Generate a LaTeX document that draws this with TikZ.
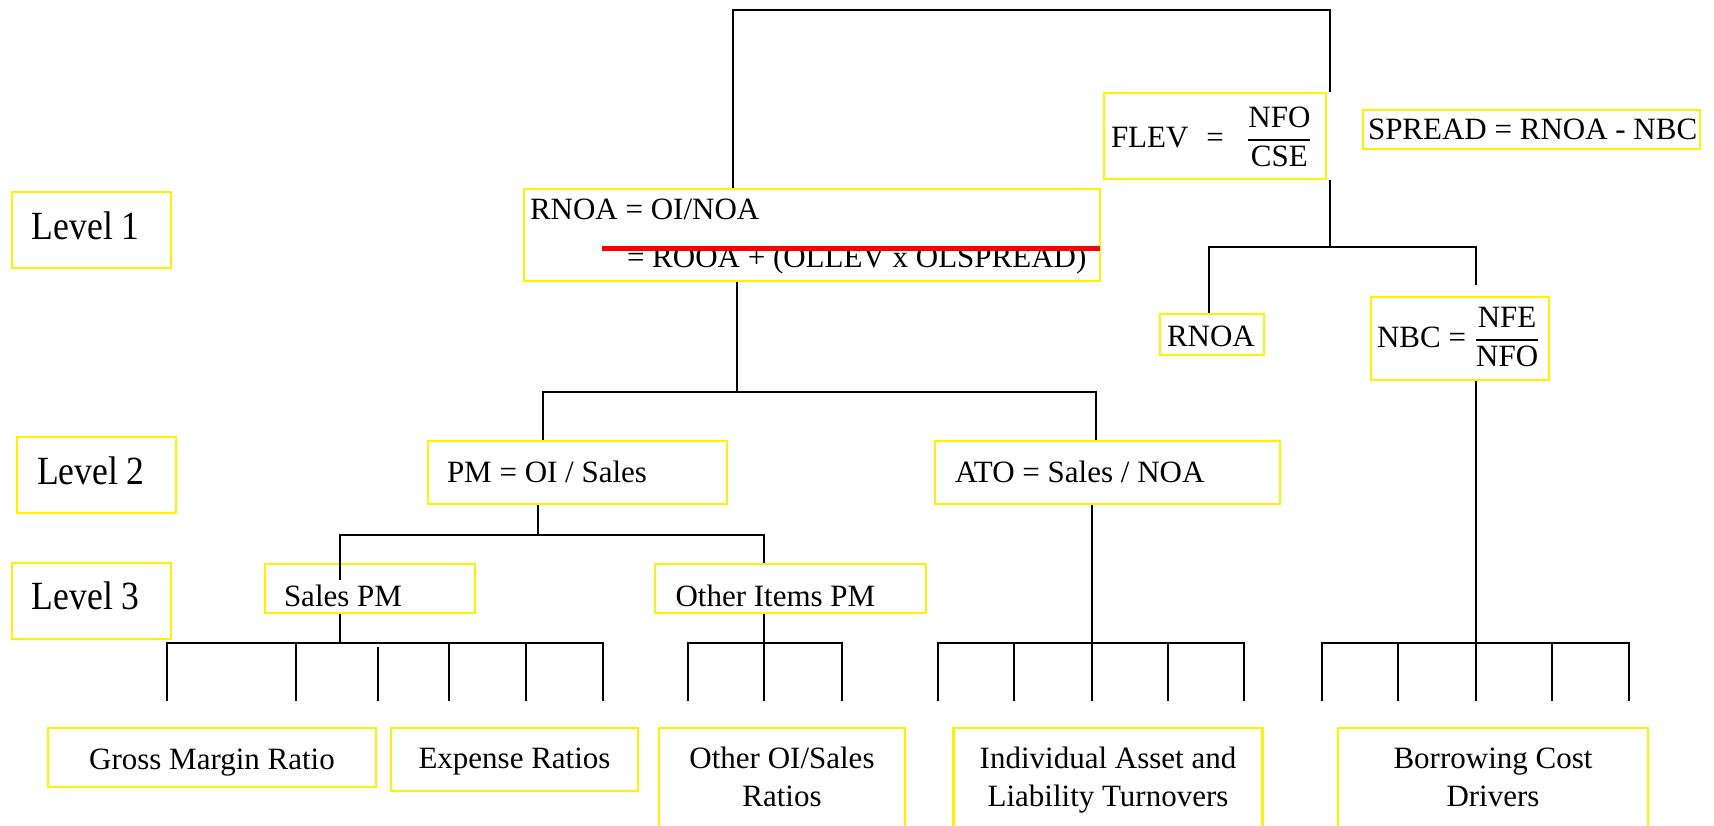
\documentclass[tikz,border=0pt]{standalone}
\usepackage{fontspec}
\setmainfont{Liberation Serif}
\newfontfamily\levfont[FakeStretch=0.89]{Liberation Serif}
\newcommand\mainsz{\fontsize{15.5}{19}\selectfont}
\newcommand\levsz{\levfont\fontsize{20}{24}\selectfont}
\tikzset{
  ybox/.style={draw=yellow, line width=1.3pt, inner ysep=0pt, inner xsep=0pt, font=\mainsz},
  levbox/.style={ybox, font=\levsz, minimum width=79.5pt, minimum height=38pt, inner xsep=10pt, text depth=0pt},
  conn/.style={draw=black, line width=1pt},
  strike/.style={draw=red, line width=2.5pt},
}
\begin{document}
\begin{tikzpicture}[x=0.5pt,y=-0.5pt]
\fill[white] (0,0) rectangle (1714,825);
\useasboundingbox (0,0) rectangle (1714,825);
\clip (0,0) rectangle (1714,825);

% level labels
\node[levbox, text height=9pt] (lev1) at (91.5,230) {\makebox[59.5pt][l]{Level 1}};
\node[levbox, text height=9pt] (lev2) at (96.5,475) {\makebox[59.5pt][l]{Level 2}};
\node[levbox, text height=8pt] (lev3) at (91.5,601) {\makebox[59.5pt][l]{Level 3}};

% level 1
\node[ybox, minimum width=288pt, minimum height=46pt, inner xsep=3pt, text height=0pt, text depth=16pt] (rnoa) at (812,235)
  {\parbox[t]{282pt}{\fontsize{15.5}{24}\selectfont RNOA = OI/NOA\\\hspace*{48.5pt}= ROOA + (OLLEV x OLSPREAD)}};
\node[ybox, minimum width=111pt, minimum height=43pt, inner xsep=3.5pt, text height=11pt, text depth=0pt] (flev) at (1215,136)
  {\makebox[104pt][l]{FLEV\hspace{9pt}=\hspace{11pt}$\displaystyle{\mbox{NFO}\above 0.9pt\mbox{CSE}}$}};
\node[ybox, minimum width=168.5pt, minimum height=19.5pt, inner xsep=2.5pt, text height=9.5pt, text depth=0pt] (spread) at (1531.5,129.5)
  {\makebox[163.5pt][l]{SPREAD = RNOA - NBC}};
\node[ybox, minimum width=52pt, minimum height=20.5pt, inner xsep=3.5pt, text height=11.5pt, text depth=0pt] (rnoa2) at (1212,334.5)
  {\makebox[45pt][l]{RNOA}};
\node[ybox, minimum width=89pt, minimum height=41.5pt, inner xsep=3pt, text height=8.5pt, text depth=0pt] (nbc) at (1460,338.5)
  {\makebox[83pt][l]{NBC = $\displaystyle{\mbox{NFE}\above 0.9pt\mbox{NFO}}$}};

% level 2
\node[ybox, minimum width=149.5pt, minimum height=31.5pt, inner xsep=9.5pt, text height=9.5pt, text depth=0pt] (pm) at (577.5,472.5)
  {\makebox[130.5pt][l]{PM = OI / Sales}};
\node[ybox, minimum width=172.5pt, minimum height=31.5pt, inner xsep=10pt, text height=9.5pt, text depth=0pt] (ato) at (1107.5,472.5)
  {\makebox[152.5pt][l]{ATO = Sales / NOA}};

% level 3
\node[ybox, minimum width=105pt, minimum height=24.5pt, inner xsep=9.5pt, text height=17.5pt, text depth=0pt] (salespm) at (370,588.5)
  {\makebox[86pt][l]{Sales PM}};
\node[ybox, minimum width=135.5pt, minimum height=24.5pt, inner xsep=10.25pt, text height=17.5pt, text depth=0pt] (otherpm) at (790.5,588.5)
  {\makebox[115pt][l]{Other Items PM}};

% bottom boxes
\node[ybox, minimum width=164pt, minimum height=29.5pt, text height=11.5pt, text depth=0pt] (gm) at (212,757.5) {Gross Margin Ratio};
\node[ybox, minimum width=123.5pt, minimum height=31.5pt, text height=8.5pt, text depth=0pt] (exp) at (514.5,759.5) {Expense Ratios};
\node[ybox, minimum width=123pt, minimum height=51.5pt, text height=0pt, text depth=11.5pt] (otheroi) at (782,779.5)
  {\parbox[t]{123pt}{\centering\fontsize{15.5}{19}\selectfont Other OI/Sales\\Ratios}};
\node[ybox, minimum width=154.75pt, minimum height=51.5pt, text height=0pt, text depth=11.5pt] (indiv) at (1108,779.5)
  {\parbox[t]{154.75pt}{\centering\fontsize{15.5}{19}\selectfont Individual Asset and\\Liability Turnovers}};
\node[ybox, minimum width=155pt, minimum height=51.5pt, text height=0pt, text depth=11.5pt] (borrow) at (1493,779.5)
  {\parbox[t]{155pt}{\centering\fontsize{15.5}{19}\selectfont Borrowing Cost\\Drivers}};

% strike line
\draw[strike] (602,248) -- (1100,248);

% top bracket
\coordinate (tl) at (733,10);
\coordinate (tr) at (1330,10);
\draw[conn] (rnoa.north -| tl) -- (tl) -- (tr) -- (flev.north -| tr);

% FLEV branch
\coordinate (fj) at (1330,247);
\coordinate (fl) at (1209,247);
\coordinate (fr) at (1476,247);
\coordinate (nbcend) at (1476,285);
\draw[conn] (flev.south -| fj) -- (fj);
\draw[conn] (rnoa2.north -| fl) -- (fl) -- (fr) -- (nbcend);

% RNOA branch
\coordinate (r1) at (737,392);
\coordinate (rl) at (543,392);
\coordinate (rr) at (1096,392);
\draw[conn] (rnoa.south -| r1) -- (r1);
\draw[conn] (pm.north -| rl) -- (rl) -- (rr) -- (ato.north -| rr);

% PM branch
\coordinate (p1) at (538,535);
\coordinate (pl) at (340,535);
\coordinate (pr) at (764,535);
\coordinate (sin) at (340,580);
\draw[conn] (pm.south -| p1) -- (p1);
\draw[conn] (sin) -- (pl) -- (pr) -- (otherpm.north -| pr);

% bottom brackets
\coordinate (g1) at (340,643);
\coordinate (g2) at (764,643);
\coordinate (g3) at (1092,643);
\coordinate (g4) at (1476,643);
\draw[conn] (salespm.south -| g1) -- (g1);
\draw[conn] (otherpm.south -| g2) -- (g2);
\draw[conn] (ato.south -| g3) -- (g3);
\draw[conn] (nbc.south -| g4) -- (g4);

\draw[conn] (167,701) -- (167,643) -- (603,643) -- (603,701);
\foreach \x in {296,449,526} \draw[conn] (\x,643) -- (\x,701);
\draw[conn] (378,647) -- (378,701);

\draw[conn] (688,701) -- (688,643) -- (842,643) -- (842,701);
\draw[conn] (764,643) -- (764,701);

\draw[conn] (938,701) -- (938,643) -- (1244,643) -- (1244,701);
\foreach \x in {1014,1092,1168} \draw[conn] (\x,643) -- (\x,701);

\draw[conn] (1322,701) -- (1322,643) -- (1629,643) -- (1629,701);
\foreach \x in {1398,1476,1552} \draw[conn] (\x,643) -- (\x,701);
\end{tikzpicture}
\end{document}
